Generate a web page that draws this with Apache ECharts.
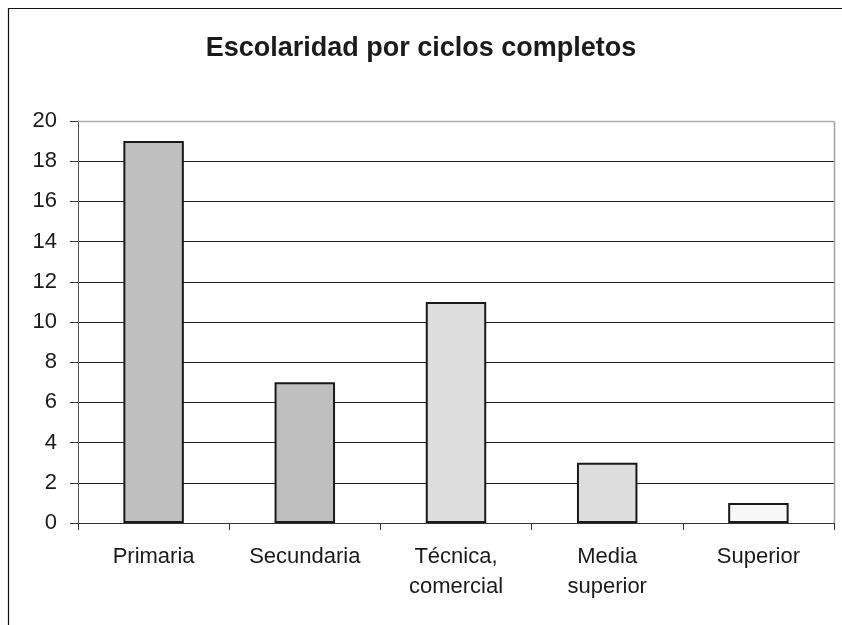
<!DOCTYPE html>
<html>
<head>
<meta charset="utf-8">
<script src="https://cdn.jsdelivr.net/npm/echarts@6/dist/echarts.min.js"></script>
<style>html,body{margin:0;padding:0;background:#fff}#c{width:842px;height:625px}</style>
</head>
<body>
<div id="c"></div>
<script>
const titleText = "Escolaridad por ciclos completos";
const categories = ["Primaria", "Secundaria", "Técnica,\ncomercial", "Media\nsuperior", "Superior"];
const values = [19, 7, 11, 3, 1];
const barColors = ["#bfbfbf", "#bfbfbf", "#dddddd", "#dddddd", "#f7f7f7"];
const yTicks = [0, 2, 4, 6, 8, 10, 12, 14, 16, 18, 20];

const chart = echarts.init(document.getElementById('c'), null, {renderer: 'canvas'});
const font = '"Liberation Sans", Arial, sans-serif';
chart.setOption({
  animation: false,
  backgroundColor: '#fff',
  title: {
    text: titleText, left: 'center', top: 30,
    textStyle: {fontFamily: font, fontSize: 27, fontWeight: 'bold', color: '#1a1a1a'}
  },
  graphic: [
    {type: 'rect', shape: {x: 8.5, y: 8.5, width: 900, height: 900}, style: {fill: 'none', stroke: '#111', lineWidth: 1.2}, z: 10},
    {type: 'line', shape: {x1: 78, y1: 121.5, x2: 834.5, y2: 121.5}, style: {stroke: '#b0b0b0', lineWidth: 1.5}, z: 10},
    {type: 'line', shape: {x1: 834.5, y1: 121.5, x2: 834.5, y2: 523}, style: {stroke: '#a0a0a0', lineWidth: 1.5}, z: 10}
  ],
  grid: {left: 78, right: 8, top: 121, bottom: 102, containLabel: false},
  xAxis: {
    type: 'category', data: categories,
    axisLine: {lineStyle: {color: '#333', width: 1}},
    axisTick: {show: true, length: 7, lineStyle: {color: '#333'}},
    axisLabel: {fontFamily: font, fontSize: 22, color: '#1a1a1a', margin: 19, lineHeight: 30, interval: 0}
  },
  yAxis: {
    type: 'value', min: 0, max: 20, interval: 2,
    axisLine: {show: true, lineStyle: {color: '#555', width: 1}},
    axisTick: {show: true, length: 8, lineStyle: {color: '#333'}},
    axisLabel: {fontFamily: font, fontSize: 22, color: '#1a1a1a', margin: 21,
      formatter: v => yTicks.includes(v) ? String(v) : ''},
    splitLine: {lineStyle: {color: '#222', width: 1}}
  },
  series: [{
    type: 'bar',
    barWidth: '40%',
    data: values.map((v, i) => ({value: v, itemStyle: {color: barColors[i]}})),
    itemStyle: {borderColor: '#1a1a1a', borderWidth: 2}
  }]
});
</script>
</body>
</html>
